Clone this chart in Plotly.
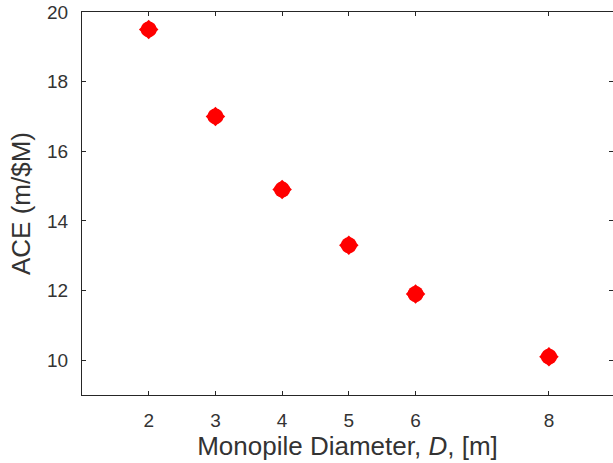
import plotly.graph_objects as go

diameters = [2, 3, 4, 5, 6, 8]
ace_values = [19.5, 17.0, 14.9, 13.3, 11.9, 10.1]
x_ticks = [2, 3, 4, 5, 6, 8]
y_ticks = [10, 12, 14, 16, 18, 20]

fig = go.Figure()
fig.add_trace(go.Scatter(
    x=diameters, y=ace_values, mode="markers",
    marker=dict(symbol="circle", size=16, color="#ff0000", line=dict(width=0)),
    showlegend=False, cliponaxis=False, hoverinfo="skip",
))
fig.add_trace(go.Scatter(
    x=diameters, y=ace_values, mode="markers",
    marker=dict(symbol="diamond", size=15, color="#ff0000", line=dict(width=0)),
    showlegend=False, cliponaxis=False,
))
# invisible trace for mirrored right ticks
fig.add_trace(go.Scatter(x=[None], y=[None], yaxis="y2", showlegend=False))

font_family = "Liberation Sans, Arial, sans-serif"
text_color = "#333333"
fig.update_layout(
    width=613, height=463,
    margin=dict(l=82, r=0, t=12, b=68),
    paper_bgcolor="white", plot_bgcolor="white",
    font=dict(family=font_family, color=text_color),
    xaxis=dict(
        range=[1, 8.96], tickvals=x_ticks, ticktext=[str(v) for v in x_ticks],
        showgrid=False, zeroline=False,
        showline=True, linecolor="#262626", linewidth=1.3, mirror="ticks",
        ticks="inside", ticklen=4, tickcolor="#262626", tickwidth=1.3,
        tickfont=dict(size=19, color=text_color), ticklabelstandoff=8,
        title=dict(text="Monopile Diameter, <i>D</i>, [m]", font=dict(size=26, color=text_color), standoff=5),
    ),
    yaxis=dict(
        range=[9, 20], tickvals=y_ticks, ticktext=[str(v) for v in y_ticks],
        showgrid=False, zeroline=False,
        showline=True, linecolor="#262626", linewidth=1.3, mirror=False,
        ticks="inside", ticklen=4, tickcolor="#262626", tickwidth=1.3,
        tickfont=dict(size=19, color=text_color), ticklabelstandoff=9,
        title=dict(text="ACE (m/$M)", font=dict(size=26, color=text_color), standoff=8),
    ),
    yaxis2=dict(
        range=[9, 20], tickvals=y_ticks, overlaying="y", side="right",
        showgrid=False, zeroline=False, showline=False,
        ticks="inside", ticklen=4, tickcolor="#262626", tickwidth=1.3,
        showticklabels=False,
    ),
)

fig.write_html("out.html")
